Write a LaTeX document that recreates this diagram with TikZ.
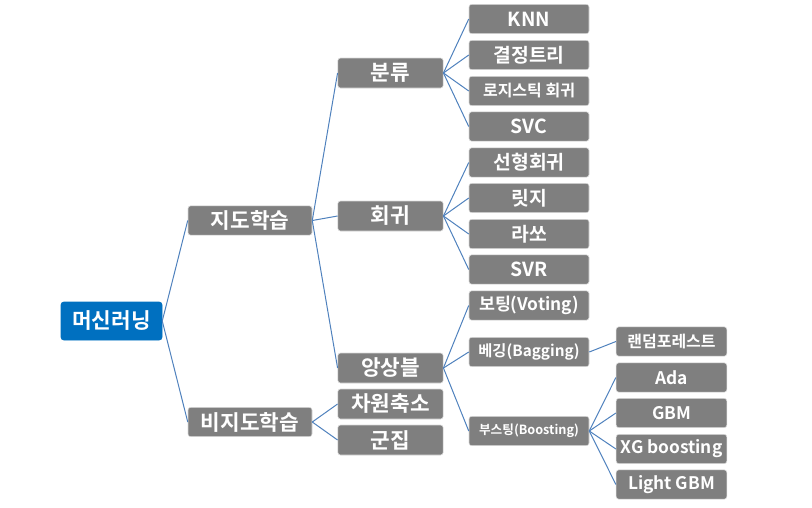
\documentclass[tikz,border=0pt]{standalone}
\usepackage{fontspec}
\setmainfont{Noto Sans CJK KR}[BoldFont={Noto Sans CJK KR Bold}]
\usetikzlibrary{positioning}
\definecolor{rootblue}{RGB}{0,112,192}
\definecolor{boxgray}{RGB}{127,127,127}
\definecolor{linkblue}{RGB}{79,129,189}
\newcommand{\boxfont}[1]{\fontsize{#1}{#1}\selectfont\bfseries}
\tikzset{
    box/.style={rectangle,rounded corners=2pt,fill=boxgray,draw=black!15,
        line width=0.4pt,text=white,inner sep=0pt,font=\boxfont{16pt}},
    rootbox/.style={box,fill=rootblue,draw=rootblue,minimum width=75.75pt,minimum height=28.5pt},
    midbox/.style={box,minimum width=93pt,minimum height=22pt},
    catbox/.style={box,minimum width=79pt,minimum height=22.5pt},
    leafbox/.style={box,minimum width=90pt,minimum height=22pt,font=\boxfont{14.5pt}},
    algbox/.style={box,minimum width=83pt,minimum height=22pt,font=\boxfont{13pt}},
    link/.style={draw=linkblue,line width=0.75pt},
}
\begin{document}
\begin{tikzpicture}[x=0.75pt,y=-0.75pt]
    \useasboundingbox (0,0) rectangle (812,507);

    \node[rootbox] (ml) at (111.5,321) {머신러닝};

    \node[midbox] (sup) at (250,220.5) {지도학습};
    \node[midbox] (unsup) at (250,422) {비지도학습};

    \node[catbox] (cls) at (390.5,73) {분류};
    \node[catbox] (reg) at (390.5,216) {회귀};
    \node[catbox] (ens) at (390.5,368) {앙상블};
    \node[catbox] (dimred) at (390.5,404) {차원축소};
    \node[catbox] (clust) at (390.5,440) {군집};

    \node[leafbox] (knn) at (529,19) {KNN};
    \node[leafbox] (tree) at (529,55) {결정트리};
    \node[leafbox,font=\boxfont{12pt}] (logit) at (529,91) {로지스틱 회귀};
    \node[leafbox] (svc) at (529,126.5) {SVC};
    \node[leafbox] (linreg) at (529,162.5) {선형회귀};
    \node[leafbox] (ridge) at (529,198) {릿지};
    \node[leafbox] (lasso) at (529,234) {라쏘};
    \node[leafbox] (svr) at (529,269.5) {SVR};
    \node[leafbox,font=\boxfont{13pt}] (vote) at (529,305.5) {보팅(Voting)};
    \node[leafbox,font=\boxfont{11.5pt}] (bag) at (529,352) {베깅(Bagging)};
    \node[leafbox,font=\boxfont{9.5pt}] (boost) at (529,431) {부스팅(Boosting)};

    \node[algbox,font=\boxfont{12pt}] (rf) at (671.5,341.5) {랜덤포레스트};
    \node[algbox] (ada) at (671.5,377.5) {Ada};
    \node[algbox] (gbm) at (671.5,413) {GBM};
    \node[algbox] (xgb) at (671.5,449) {XG boosting};
    \node[algbox] (lgbm) at (671.5,484.5) {Light GBM};

    % tree links
    \foreach \a/\b in {ml/sup,ml/unsup,
            sup/cls,sup/reg,sup/ens,unsup/dimred,unsup/clust,
            cls/knn,cls/tree,cls/logit,cls/svc,
            reg/linreg,reg/ridge,reg/lasso,reg/svr,
            ens/vote,ens/bag,ens/boost,bag/rf,
            boost/ada,boost/gbm,boost/xgb,boost/lgbm}
        \draw[link] (\a.east) -- (\b.west);
\end{tikzpicture}
\end{document}
